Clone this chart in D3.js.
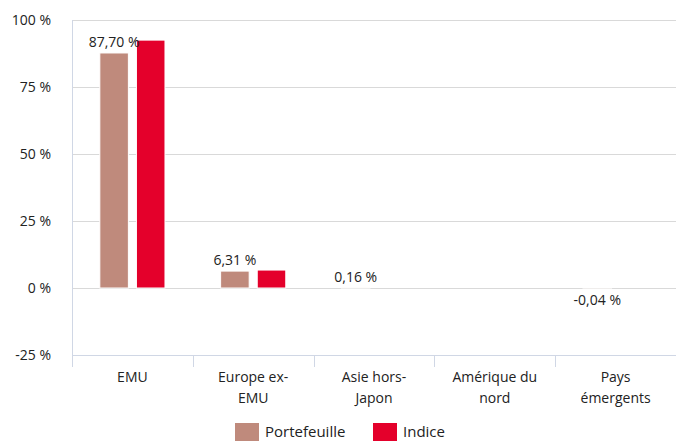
<!DOCTYPE html>
<html><head><meta charset="utf-8">
<script src="https://cdn.jsdelivr.net/npm/d3@7"></script>
<style>body{margin:0;background:#fff}text{font-family:"Open Sans","Noto Sans",sans-serif;fill:#222}</style>
</head><body><svg id="c" width="676" height="442"></svg>
<script>
const categories = [["EMU"],["Europe ex-","EMU"],["Asie hors-","Japon"],["Amérique du","nord"],["Pays","émergents"]];
const portefeuille = [87.70, 6.31, 0.16, 0, -0.04];
const indice = [92.5, 6.7, 0, 0, 0];
const seriesNames = ["Portefeuille","Indice"];
const colors = ["#bf8a7c","#e4002b"];
const yTicks = [-25,0,25,50,75,100];

const svg = d3.select("#c");
const x = d3.scaleBand().domain(d3.range(categories.length)).range([72,676]);
const y = d3.scaleLinear().domain([-25,100]).range([355,20]);
const sub = d3.scaleBand().domain([0,1]).range([0,x.bandwidth()]).paddingInner(0.22).paddingOuter(0.76);

// gridlines
svg.append("g").selectAll("line").data(yTicks.filter(d=>d>-25)).join("line")
  .attr("x1",72).attr("x2",676).attr("y1",d=>Math.round(y(d))+0.5).attr("y2",d=>Math.round(y(d))+0.5)
  .attr("stroke","#d9d9d9").attr("stroke-width",1);

// y labels
svg.append("g").selectAll("text").data(yTicks).join("text")
  .attr("x",51).attr("y",d=>y(d)).attr("dy","0.35em").attr("text-anchor","end")
  .attr("font-size",14).text(d=>(d<0?"-"+Math.abs(d):d)+" %");

// axes lines
svg.append("line").attr("x1",72.5).attr("x2",72.5).attr("y1",20).attr("y2",367).attr("stroke","#d0d7e5");
svg.append("line").attr("x1",72).attr("x2",676).attr("y1",Math.round(y(-25))+0.5).attr("y2",Math.round(y(-25))+0.5).attr("stroke","#d0d7e5");
svg.append("g").selectAll("line").data(d3.range(1,categories.length)).join("line")
  .attr("x1",d=>Math.round(x(d))+0.5).attr("x2",d=>Math.round(x(d))+0.5).attr("y1",y(-25)).attr("y2",367)
  .attr("stroke","#d0d7e5");

// bars
const data = [portefeuille, indice];
data.forEach((vals,si)=>{
  svg.append("g").selectAll("rect").data(vals).join("rect")
    .attr("x",(d,i)=>x(i)+sub(si))
    .attr("width",sub.bandwidth())
    .attr("y",d=>y(Math.max(0,d)))
    .attr("height",d=>Math.abs(y(d)-y(0)))
    .attr("fill",colors[si]).attr("stroke","#fff").attr("stroke-width",1);
});

// labels on portefeuille
const fmt = v => (v<0?"-":"")+d3.format(".2f")(Math.abs(v)).replace(".",",")+" %";
const labelData = portefeuille.map((v,i)=>({v,i})).filter(d=>d.v!==0);
svg.append("g").selectAll("text").data(labelData).join("text")
  .attr("x",d=>x(d.i)+sub(0)+sub.bandwidth()/2)
  .attr("y",d=> d.v>=0 ? y(d.v)-6 : y(d.v)+17)
  .attr("text-anchor","middle").attr("font-size",14).text(d=>fmt(d.v));

// category labels
const cl = svg.append("g").selectAll("text").data(categories).join("text")
  .attr("text-anchor","middle").attr("font-size",14)
  .attr("x",(d,i)=>x(i)+x.bandwidth()/2).attr("y",382);
cl.selectAll("tspan").data(d=>d).join("tspan")
  .attr("x",function(){return this.parentNode.getAttribute("x");})
  .attr("dy",(d,i)=>i===0?0:21).text(d=>d);

// legend
const lg = [{x:235,n:0},{x:373,n:1}];
lg.forEach(l=>{
  svg.append("rect").attr("x",l.x).attr("y",423).attr("width",24).attr("height",18).attr("fill",colors[l.n]);
  svg.append("text").attr("x",l.x+30).attr("y",432).attr("dy","0.35em").attr("font-size",15).text(seriesNames[l.n]);
});
</script></body></html>
